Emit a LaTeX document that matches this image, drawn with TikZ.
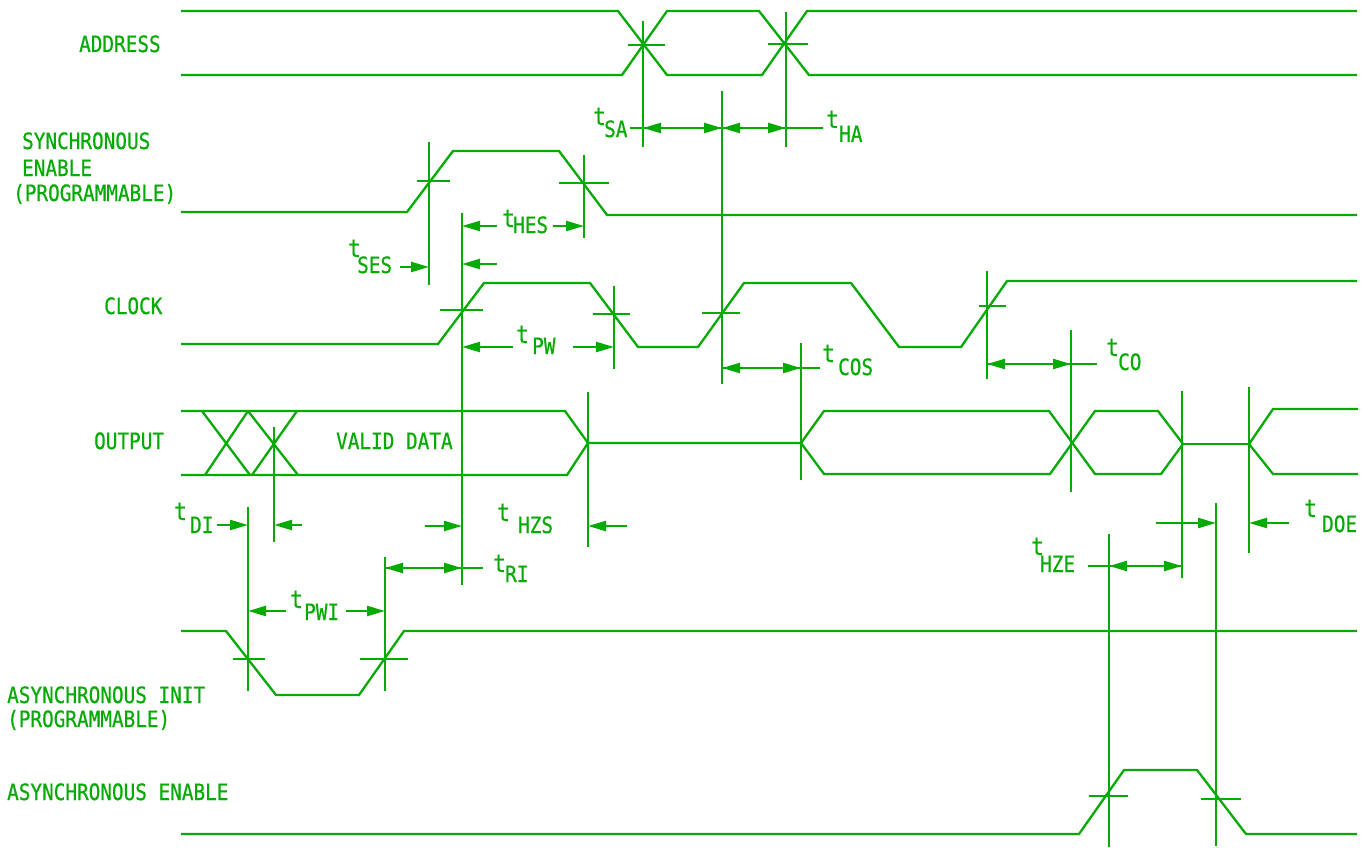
\documentclass[tikz,border=0pt]{standalone}
\usepackage{fontspec}
\usepackage{graphicx}
\usetikzlibrary{arrows.meta}
\newfontfamily\labfont[FakeBold=0.7]{DejaVu Sans Mono}
\definecolor{sig}{RGB}{5,170,5}
\newcommand{\nrw}[1]{\scalebox{0.86}[1]{#1}}
\begin{document}
\begin{tikzpicture}[x=1pt,y=-1pt,
  every path/.style={draw=sig,line width=2.3pt,line join=miter},
  mk/.style={draw=sig,line width=2.3pt},
  dimarrow/.style={draw=sig,line width=2.3pt,-{Triangle[length=18pt,width=10pt]}},
  lbl/.style={font=\labfont\fontsize{22.5}{24}\selectfont,text=sig,inner sep=0pt,anchor=base west},
  tl/.style={lbl,font=\labfont\fontsize{24.5}{26}\selectfont}]
\path[use as bounding box,draw=none] (0,0) rectangle (1367,848);

% ---------------- labels ----------------
\node[lbl] (lAddr) at (78,52) {\nrw{ADDRESS}};
\node[lbl] (lSE1) at (21,149) {\nrw{SYNCHRONOUS}};
\node[lbl] (lSE2) at (21,176) {\nrw{ENABLE}};
\node[lbl] (lSE3) at (12,201) {\nrw{(PROGRAMMABLE)}};
\node[lbl] (lClk) at (103,314) {\nrw{CLOCK}};
\node[lbl] (lOut) at (93,449) {\nrw{OUTPUT}};
\node[lbl] (lVal) at (335,449) {\nrw{VALID DATA}};
\node[lbl] (lAI1) at (6,703) {\nrw{ASYNCHRONOUS INIT}};
\node[lbl] (lAI2) at (6,727) {\nrw{(PROGRAMMABLE)}};
\node[lbl] (lAE) at (6,800) {\nrw{ASYNCHRONOUS ENABLE}};

% timing labels (t + subscript)
\node[tl] (tSA) at (592,125) {\nrw{t}};   \node[lbl] (sSA) at (603,137) {\nrw{SA}};
\node[tl] (tHA) at (825,128) {\nrw{t}};   \node[lbl] (sHA) at (838,142) {\nrw{HA}};
\node[tl] (tHES) at (501,227) {\nrw{t}};  \node[lbl] (sHES) at (512,233) {\nrw{HES}};
\node[tl] (tSES) at (347,257) {\nrw{t}};  \node[lbl] (sSES) at (356,273) {\nrw{SES}};
\node[tl] (tPW) at (515,343) {\nrw{t}};   \node[lbl] (sPW) at (531,354) {\nrw{PW}};
\node[tl] (tCOS) at (821,362) {\nrw{t}};  \node[lbl] (sCOS) at (837,375) {\nrw{COS}};
\node[tl] (tCO) at (1105,356) {\nrw{t}};  \node[lbl] (sCO) at (1117,370) {\nrw{CO}};
\node[tl] (tDI) at (173,520) {\nrw{t}};   \node[lbl] (sDI) at (189,533) {\nrw{DI}};
\node[tl] (tHZS) at (496,521) {\nrw{t}};  \node[lbl] (sHZS) at (517,533) {\nrw{HZS}};
\node[tl] (tRI) at (492,572) {\nrw{t}};   \node[lbl] (sRI) at (504,582) {\nrw{RI}};
\node[tl] (tPWI) at (289,608) {\nrw{t}};  \node[lbl] (sPWI) at (303,620) {\nrw{PWI}};
\node[tl] (tDOE) at (1303,517) {\nrw{t}}; \node[lbl] (sDOE) at (1321,532) {\nrw{DOE}};
\node[tl] (tHZE) at (1030,555) {\nrw{t}}; \node[lbl] (sHZE) at (1039,572) {\nrw{HZE}};

% ---------------- ADDRESS ----------------
\draw (181,11)--(618,11)--(667,75)--(762,75)--(807,11)--(1357,11);
\draw (181,75)--(622,75)--(667,11)--(759,11)--(809,75)--(1357,75);
\draw[mk] (643,21)--(643,147);  \draw[mk] (628,45)--(665,45);
\draw[mk] (786,12)--(786,147);  \draw[mk] (768,44)--(808,44);
\draw[mk] (722,91)--(722,384);
\draw[mk] (630,128)--(823,128);
\draw[dimarrow] (682,128)--(643,128);
\draw[dimarrow] (682,128)--(722,128);
\draw[dimarrow] (754,128)--(722,128);
\draw[dimarrow] (754,128)--(786,128);

% ---------------- SYNCHRONOUS ENABLE ----------------
\draw (181,212)--(407,212)--(453,151)--(559,151)--(607,215)--(1357,215);
\draw[mk] (429,142)--(429,285);  \draw[mk] (417,181)--(450,181);
\draw[mk] (584,155)--(584,238);  \draw[mk] (559,183)--(609,183);
\draw[mk] (462,213)--(462,585);
\draw[dimarrow] (497,226)--(462,226);
\draw[dimarrow] (553,226)--(584,226);
\draw[dimarrow] (400,267)--(429,267);
\draw[dimarrow] (497,264)--(462,264);

% ---------------- CLOCK ----------------
\draw (181,344)--(438,344)--(484,283)--(590,283)--(638,347)--(698,347)--(744,283)--(851,283)--(899,347)--(961,347)--(1007,281)--(1357,281);
\draw[mk] (440,310)--(483,310);
\draw[mk] (614,286)--(614,369);  \draw[mk] (593,314)--(630,314);
\draw[mk] (702,313)--(740,313);
\draw[mk] (987,271)--(987,379);  \draw[mk] (979,306)--(1006,306);
\draw[dimarrow] (513,347)--(462,347);
\draw[dimarrow] (573,347)--(614,347);
% t_COS
\draw[mk] (801,343)--(801,480);
\draw[mk] (722,368)--(820,368);
\draw[dimarrow] (760,368)--(722,368);
\draw[dimarrow] (760,368)--(801,368);
% t_CO
\draw[mk] (1071,330)--(1071,492);
\draw[mk] (987,364)--(1097,364);
\draw[dimarrow] (1030,364)--(987,364);
\draw[dimarrow] (1030,364)--(1071,364);

% ---------------- OUTPUT ----------------
\draw (181,411)--(565,411)--(588,443)--(801,443);
\draw (181,475)--(567,475)--(588,443);
\draw (202,411)--(250,475);  \draw (205,475)--(248,411);
\draw (248,411)--(298,475);  \draw (252,475)--(297,411);
\draw[mk] (274,427)--(274,542);
\draw[mk] (588,392)--(588,547);
\draw (801,443)--(824,411)--(1049,411)--(1095,474)--(1161,474)--(1183,444);
\draw (801,443)--(824,474)--(1050,474)--(1095,411)--(1158,411)--(1183,444);
\draw (1183,444)--(1249,444);
\draw (1249,444)--(1273,409)--(1358,409);
\draw (1249,444)--(1273,474)--(1358,474);
\draw[mk] (1182,391)--(1182,578);
\draw[mk] (1249,387)--(1249,553);
\draw[mk] (1216,503)--(1216,846);
\draw[mk] (1109,534)--(1109,847);
% t_DI
\draw[mk] (248,507)--(248,691);
\draw[dimarrow] (217,525)--(248,525);
\draw[dimarrow] (302,525)--(274,525);
% t_HZS
\draw[dimarrow] (425,526)--(462,526);
\draw[dimarrow] (627,526)--(588,526);
% t_RI
\draw[mk] (385,557)--(385,691);
\draw[mk] (385,568)--(483,568);
\draw[dimarrow] (424,568)--(385,568);
\draw[dimarrow] (424,568)--(462,568);
% t_DOE
\draw[dimarrow] (1156,523)--(1216,523);
\draw[dimarrow] (1289,523)--(1249,523);
% t_HZE
\draw[mk] (1088,566)--(1182,566);
\draw[dimarrow] (1146,566)--(1109,566);
\draw[dimarrow] (1146,566)--(1182,566);

% ---------------- ASYNCHRONOUS INIT ----------------
\draw (181,631)--(226,631)--(276,695)--(359,695)--(404,631)--(1357,631);
\draw[mk] (233,659)--(265,659);
\draw[mk] (360,659)--(408,659);
\draw[dimarrow] (286,611)--(248,611);
\draw[dimarrow] (346,611)--(385,611);

% ---------------- ASYNCHRONOUS ENABLE ----------------
\draw (181,834)--(1079,834)--(1124,770)--(1197,770)--(1246,834)--(1357,834);
\draw[mk] (1089,796)--(1128,796);
\draw[mk] (1201,799)--(1241,799);
\end{tikzpicture}
\end{document}
